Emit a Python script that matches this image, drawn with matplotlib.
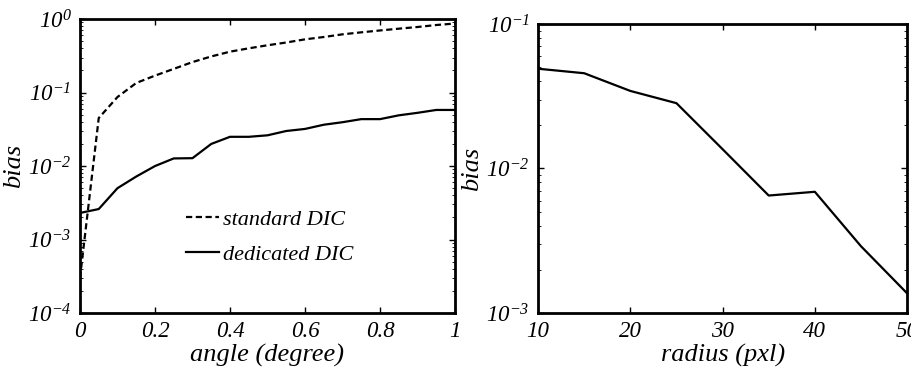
import numpy as np
import matplotlib
matplotlib.use("Agg")
import matplotlib.pyplot as plt
from matplotlib.ticker import FixedLocator, FuncFormatter, NullFormatter

plt.rcParams['font.family'] = ['Liberation Serif']
plt.rcParams['font.style'] = 'italic'
plt.rcParams['mathtext.fontset'] = 'custom'
plt.rcParams['mathtext.rm'] = 'Liberation Serif:italic'
plt.rcParams['mathtext.it'] = 'Liberation Serif:italic'
plt.rcParams['mathtext.default'] = 'it'

# ---- data ----
angle = [0.0, 0.05, 0.1, 0.15, 0.2, 0.25, 0.3, 0.35, 0.4, 0.45, 0.5,
         0.55, 0.6, 0.65, 0.7, 0.75, 0.8, 0.85, 0.9, 0.95, 1.0]
standard_dic = [3e-4, 0.045, 0.087, 0.135, 0.17, 0.21, 0.26, 0.31, 0.36, 0.40, 0.44,
                0.48, 0.53, 0.57, 0.62, 0.66, 0.70, 0.74, 0.78, 0.83, 0.87]
dedicated_dic = [0.0023, 0.0026, 0.0050, 0.0072, 0.0100, 0.0127, 0.0128, 0.0200, 0.0250, 0.0250, 0.0262,
                 0.0300, 0.0320, 0.0365, 0.0395, 0.0435, 0.0435, 0.0490, 0.0530, 0.0580, 0.0580]

radius = [10, 15, 20, 25, 30, 35, 40, 45, 50]
radius_bias = [0.049, 0.0456, 0.0344, 0.0283, 0.0136, 0.0065, 0.0069, 0.0029, 0.00137]

left_xticks = [0, 0.2, 0.4, 0.6, 0.8, 1]
right_xticks = [10, 20, 30, 40, 50]

fig = plt.figure(figsize=(9.12, 3.74), dpi=100)
ax1 = fig.add_axes([0.0877, 0.163, 0.4112, 0.786])
ax2 = fig.add_axes([0.590, 0.163, 0.4046, 0.773])

def xfmt(v, pos):
    return f"{v:g}"

def yfmt(v, pos):
    e = int(round(np.log10(v)))
    return r"$10^{%d}$" % e

for ax in (ax1, ax2):
    ax.set_yscale('log')
    for sp in ax.spines.values():
        sp.set_linewidth(2.0)
    ax.tick_params(which='both', direction='in', top=True, right=True,
                   labelsize=16.5, width=1.0)
    ax.tick_params(which='major', length=4, pad=6)
    ax.tick_params(which='minor', length=2, width=0.6)
    ax.yaxis.set_major_formatter(FuncFormatter(yfmt))
    ax.yaxis.set_minor_formatter(NullFormatter())
    ax.xaxis.set_major_formatter(FuncFormatter(xfmt))
    ax.set_ylabel('bias', fontsize=19, labelpad=2)

ax1.plot(angle, standard_dic, color='black', lw=1.6, ls=(0, (2.8, 1.6)), label='standard DIC')
ax1.plot(angle, dedicated_dic, color='black', lw=1.6, label='dedicated DIC')
ax1.set_xlim(0, 1)
ax1.set_ylim(1e-4, 1e0)
ax1.xaxis.set_major_locator(FixedLocator(left_xticks))
ax1.set_xlabel('angle (degree)', fontsize=19, labelpad=1)
ax1.legend(loc='upper left', bbox_to_anchor=(0.26, 0.384), frameon=False,
           fontsize=16, handlelength=1.45, handletextpad=0.2, labelspacing=0.68,
           borderaxespad=0)

ax2.plot(radius, radius_bias, color='black', lw=1.6)
ax2.set_xlim(10, 50)
ax2.set_ylim(1e-3, 1e-1)
ax2.xaxis.set_major_locator(FixedLocator(right_xticks))
ax2.set_xlabel('radius (pxl)', fontsize=19, labelpad=1)

fig.savefig('out.png', dpi=100)
